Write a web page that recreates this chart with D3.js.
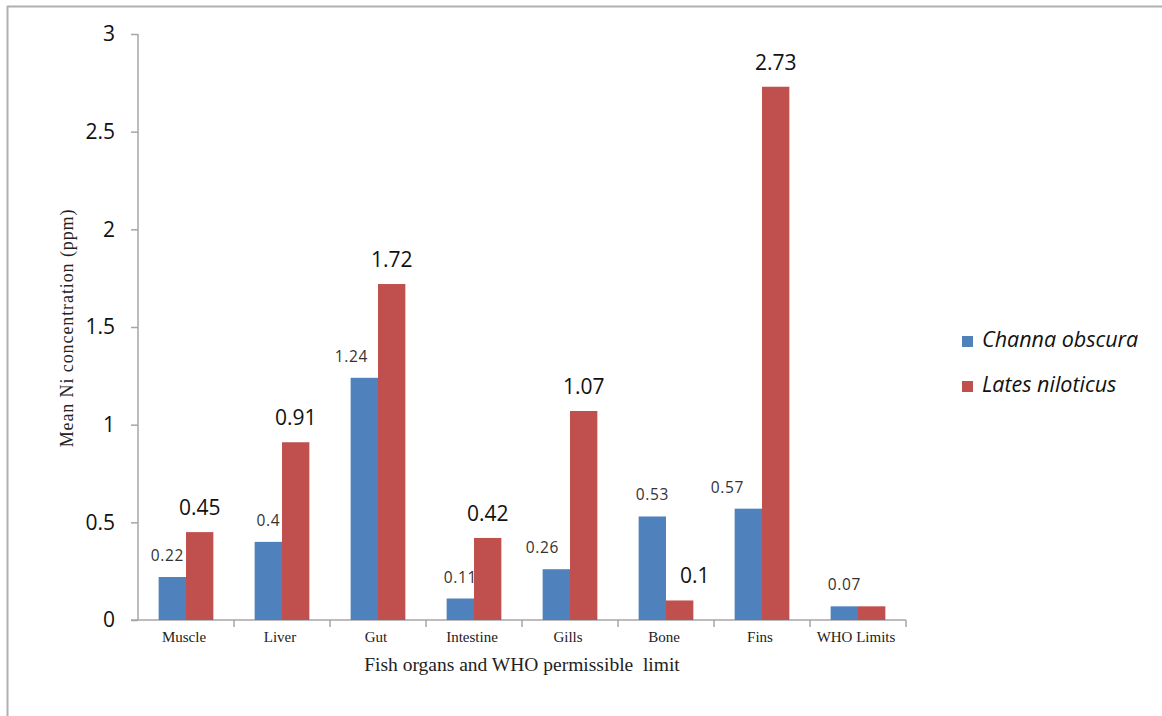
<!DOCTYPE html>
<html>
<head>
<meta charset="utf-8">
<script src="https://cdn.jsdelivr.net/npm/d3@7"></script>
<style>
  html, body { margin: 0; padding: 0; background: #fff; }
  svg { display: block; }
</style>
</head>
<body>
<svg id="chart" width="1162" height="716"></svg>
<script>
// Mean Ni concentration (ppm) per organ, two fish species, plus the WHO limit
const organs = ["Muscle", "Liver", "Gut", "Intestine", "Gills", "Bone", "Fins", "WHO Limits"];
const seriesNames = ["Channa obscura", "Lates niloticus"];
const channaValues = [0.22, 0.4, 1.24, 0.11, 0.26, 0.53, 0.57, 0.07];
const latesValues = [0.45, 0.91, 1.72, 0.42, 1.07, 0.1, 2.73, 0.07];
// which Lates values carry a printed label (WHO bar is unlabeled for that series)
const latesLabelled = [true, true, true, true, true, true, true, false];
const yTicks = [0, 0.5, 1, 1.5, 2, 2.5, 3];

// small horizontal nudges for value labels, in pixels
const channaLabelDx = [-5, 0, -13, 0, -14, 0, -21, 0];
const latesLabelDx = [0, 0, 0, 0, 0, 15, 0, 0];

const colors = ["#4F81BD", "#C0504D"];
const axisColor = "#A6A6A6";

const svg = d3.select("#chart");

// outer frame lines
svg.append("line").attr("x1", 7).attr("x2", 1162).attr("y1", 6.5).attr("y2", 6.5)
  .attr("stroke", "#B0B0B0").attr("stroke-width", 2);
svg.append("line").attr("x1", 7.5).attr("x2", 7.5).attr("y1", 6).attr("y2", 716)
  .attr("stroke", "#B0B0B0").attr("stroke-width", 2);

const plot = { left: 138, right: 906, top: 34, bottom: 620 };

const x = d3.scaleBand().domain(organs).range([plot.left, plot.right]).padding(0);
const groupFrac = 0.57;
const x1 = d3.scaleBand().domain(seriesNames)
  .range([x.bandwidth() * (1 - groupFrac) / 2, x.bandwidth() * (1 + groupFrac) / 2])
  .padding(0);
const y = d3.scaleLinear().domain([0, 3]).range([plot.bottom, plot.top]);

// y axis
const yAxis = svg.append("g")
  .attr("transform", `translate(${plot.left},0)`)
  .call(d3.axisLeft(y).tickValues(yTicks).tickSize(7).tickPadding(16).tickFormat(d3.format("")));
yAxis.select(".domain").attr("stroke", axisColor).attr("stroke-width", 1.5).attr("d", `M0,${plot.top}V${plot.bottom}`);
yAxis.selectAll(".tick line").attr("stroke", axisColor).attr("stroke-width", 1.5);
yAxis.selectAll(".tick text")
  .attr("fill", "#111")
  .style("font-family", "'Open Sans', sans-serif")
  .style("font-size", "21px");

// x axis: ticks sit at the category boundaries
const xAxisG = svg.append("g").attr("transform", `translate(0,${plot.bottom})`);
xAxisG.append("line")
  .attr("x1", plot.left - 7).attr("x2", plot.right)
  .attr("y1", 0).attr("y2", 0)
  .attr("stroke", axisColor).attr("stroke-width", 1.5);
const boundaries = organs.map(o => x(o)).concat([x(organs[organs.length - 1]) + x.bandwidth()]);
xAxisG.selectAll("line.bound").data(boundaries.slice(1)).enter().append("line")
  .attr("class", "bound")
  .attr("x1", d => d).attr("x2", d => d)
  .attr("y1", 0).attr("y2", 7)
  .attr("stroke", axisColor).attr("stroke-width", 1.5);
xAxisG.selectAll("text.cat").data(organs).enter().append("text")
  .attr("class", "cat")
  .attr("x", d => x(d) + x.bandwidth() / 2 - 2)
  .attr("y", 22)
  .attr("text-anchor", "middle")
  .attr("fill", "#222")
  .style("font-family", "'Liberation Serif', 'Times New Roman', serif")
  .style("font-size", "15px")
  .text(d => d);

// bars
const seriesData = [channaValues, latesValues];
const groups = svg.append("g").selectAll("g")
  .data(organs).enter().append("g")
  .attr("transform", d => `translate(${x(d)},0)`);

groups.selectAll("rect")
  .data((d, i) => seriesNames.map((s, k) => ({ series: s, k, value: seriesData[k][i] })))
  .enter().append("rect")
  .attr("x", d => x1(d.series))
  .attr("width", x1.bandwidth())
  .attr("y", d => y(d.value))
  .attr("height", d => y(0) - y(d.value))
  .attr("fill", d => colors[d.k]);

// value labels for Channa obscura (smaller)
svg.append("g").selectAll("text")
  .data(organs).enter().append("text")
  .attr("x", (d, i) => x(d) + x1(seriesNames[0]) + x1.bandwidth() / 2 + channaLabelDx[i])
  .attr("y", (d, i) => y(channaValues[i]) - 16)
  .attr("text-anchor", "middle")
  .attr("fill", "#333")
  .style("font-family", "'Open Sans', sans-serif")
  .style("font-size", "15.5px")
  .style("letter-spacing", "0.6px")
  .text((d, i) => channaValues[i]);

// value labels for Lates niloticus (larger)
svg.append("g").selectAll("text")
  .data(organs.filter((d, i) => latesLabelled[i])).enter().append("text")
  .attr("x", d => {
    const i = organs.indexOf(d);
    return x(d) + x1(seriesNames[1]) + x1.bandwidth() / 2 + latesLabelDx[i];
  })
  .attr("y", d => y(latesValues[organs.indexOf(d)]) - 17)
  .attr("text-anchor", "middle")
  .attr("fill", "#111")
  .style("font-family", "'Open Sans', sans-serif")
  .style("font-size", "21px")
  .text(d => latesValues[organs.indexOf(d)]);

// axis titles
svg.append("text")
  .attr("transform", `translate(73,328) rotate(-90)`)
  .attr("text-anchor", "middle")
  .attr("fill", "#222")
  .style("font-family", "'Liberation Serif', 'Times New Roman', serif")
  .style("font-size", "18px")
  .style("letter-spacing", "0.9px")
  .text("Mean Ni concentration (ppm)");

svg.append("text")
  .attr("x", (plot.left + plot.right) / 2)
  .attr("y", 671)
  .attr("text-anchor", "middle")
  .attr("fill", "#222")
  .style("font-family", "'Liberation Serif', 'Times New Roman', serif")
  .style("font-size", "19.5px")
  .style("white-space", "pre")
  .text("Fish organs and WHO permissible  limit");

// legend
const legend = svg.append("g").attr("transform", "translate(962,336)");
const items = legend.selectAll("g").data(seriesNames).enter().append("g")
  .attr("transform", (d, i) => `translate(0,${i * 45})`);
items.append("rect")
  .attr("width", 11).attr("height", 11)
  .attr("fill", (d, i) => colors[i]);
items.append("text")
  .attr("x", 20).attr("y", 11)
  .attr("fill", "#111")
  .style("font-family", "'Open Sans', sans-serif")
  .style("font-style", "italic")
  .style("font-size", "21.5px")
  .text(d => d);
</script>
</body>
</html>
